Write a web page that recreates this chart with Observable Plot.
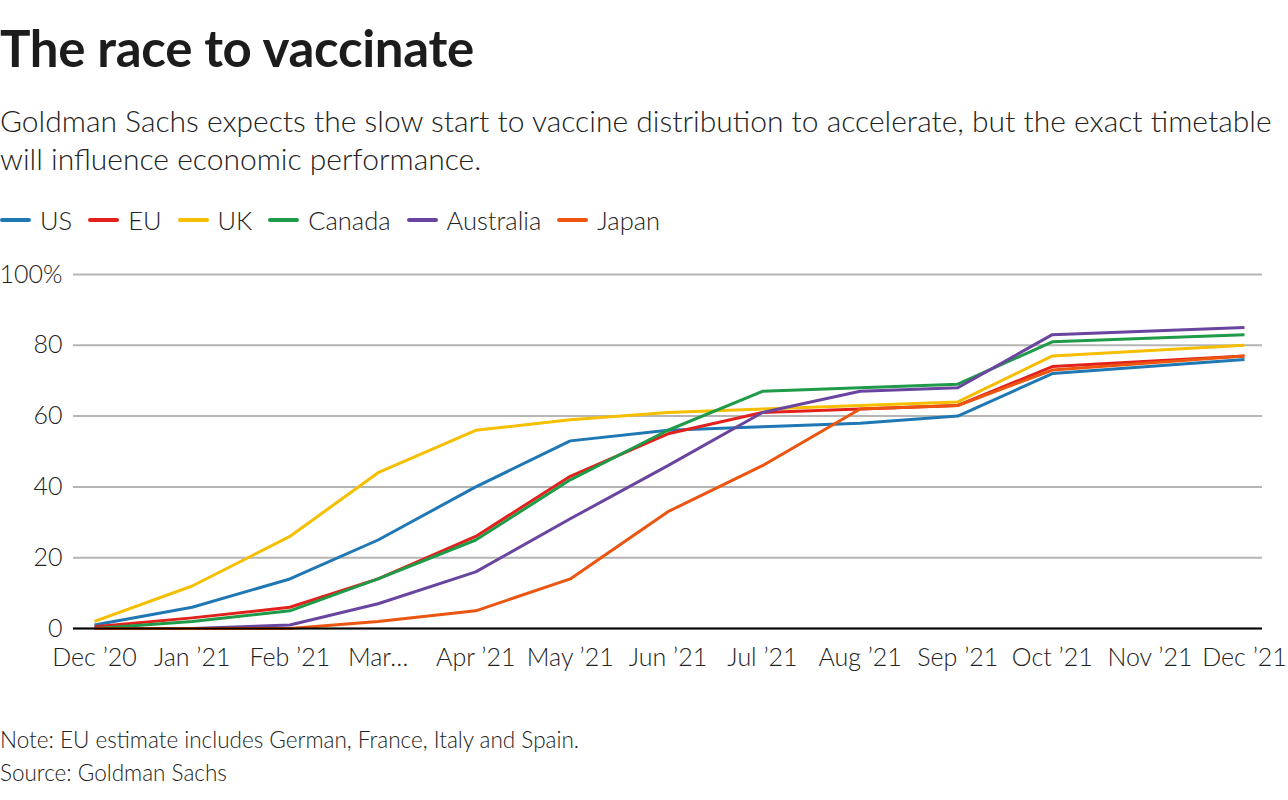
<!DOCTYPE html>
<html>
<head>
<meta charset="utf-8">
<script src="https://cdn.jsdelivr.net/npm/d3@7"></script>
<script src="https://cdn.jsdelivr.net/npm/@observablehq/plot@0.6"></script>
<style>
  html, body { margin: 0; padding: 0; background: #fff; }
  body { width: 1288px; font-family: Lato, "Noto Sans", sans-serif; color: #222; }
  #title { margin-top: 18px; font-size: 51px; line-height: 60px; font-weight: 700; color: #1c1c1c; white-space: nowrap; letter-spacing: -0.3px; }
  #subtitle { margin-top: 23px; font-size: 30px; line-height: 38px; font-weight: 300; color: #222; white-space: nowrap; }
  #legend { margin-top: 28px; height: 30px; display: flex; align-items: center; font-size: 25.5px; font-weight: 300; color: #222; }
  .item { display: flex; align-items: center; margin-right: 16px; }
  .sw { width: 31px; height: 4px; border-radius: 2px; margin-right: 9px; }
  #chart { margin-top: 15px; height: 440px; }
  #caption { margin-top: 33px; font-size: 22.5px; line-height: 33px; font-weight: 300; color: #222; }
</style>
</head>
<body>
<div id="title">The race to vaccinate</div>
<div id="subtitle">Goldman Sachs expects the slow start to vaccine distribution to accelerate, but the exact timetable<br>will influence economic performance.</div>
<div id="legend"></div>
<div id="chart"></div>
<div id="caption">Note: EU estimate includes German, France, Italy and Spain.<br>Source: Goldman Sachs</div>
<script>
// Data points (no Nov '21 vertex in the reference)
const months = ["2020-12-01","2021-01-01","2021-02-01","2021-03-01","2021-04-01","2021-05-01","2021-06-01","2021-07-01","2021-08-01","2021-09-01","2021-10-01","2021-12-01"];
const us        = [1, 6, 14, 25, 40, 53, 56, 57, 58, 60, 72, 76];
const eu        = [0.5, 3, 6, 14, 26, 43, 55, 61, 62, 63, 74, 77];
const uk        = [2, 12, 26, 44, 56, 59, 61, 62, 63, 64, 77, 80];
const canada    = [0, 2, 5, 14, 25, 42, 56, 67, 68, 69, 81, 83];
const australia = [0, 0, 1, 7, 16, 31, 46, 61, 67, 68, 83, 85];
const japan     = [0, 0, 0, 2, 5, 14, 33, 46, 62, 63, 73, 77];

const seriesNames = ["US", "EU", "UK", "Canada", "Australia", "Japan"];
const seriesValues = [us, eu, uk, canada, australia, japan];
const colors = ["#1f77b4", "#e2211c", "#f5bf00", "#1e9a48", "#6a45a0", "#ec550f"];

const tickMonths = ["2020-12-01","2021-01-01","2021-02-01","2021-03-01","2021-04-01","2021-05-01","2021-06-01","2021-07-01","2021-08-01","2021-09-01","2021-10-01","2021-11-01","2021-12-01"];
const yTicks = [0, 20, 40, 60, 80, 100];

const parse = d3.utcParse("%Y-%m-%d");
const data = [];
seriesNames.forEach((name, i) => {
  seriesValues[i].forEach((v, j) => data.push({country: name, date: parse(months[j]), value: v}));
});

// legend
const legend = document.getElementById("legend");
seriesNames.forEach((name, i) => {
  const it = document.createElement("div");
  it.className = "item";
  it.innerHTML = `<span class="sw" style="background:${colors[i]}"></span><span>${name}</span>`;
  legend.appendChild(it);
});

const fmt = d3.utcFormat("%b ’%y");
const xFormat = d => d.getUTCMonth() === 2 ? "Mar…" : fmt(d);
const yFormat = d => d === 100 ? "100%" : String(d);
const chart = Plot.plot({
  width: 1288,
  height: 440,
  marginTop: 24,
  marginBottom: 62,
  marginLeft: 73,
  marginRight: 26,
  style: { fontFamily: "Lato, 'Noto Sans', sans-serif", fontSize: "25px", fontWeight: 300, color: "#222", background: "#fff" },
  x: {
    type: "utc",
    domain: [parse(months[0]), parse(months[months.length - 1])],
    insetLeft: 21,
    insetRight: 18,
    label: null
  },
  y: {
    domain: [0, 100],
    label: null
  },
  color: { domain: seriesNames, range: colors },
  marks: [
    Plot.gridY(yTicks, { stroke: "#b5b5b5", strokeOpacity: 1, strokeWidth: 2 }),
    Plot.axisX({ ticks: tickMonths.map(parse), tickFormat: xFormat, tickSize: 0, tickPadding: 20, label: null, fontSize: 25 }),
    Plot.axisY({ ticks: yTicks, tickFormat: yFormat, tickSize: 0, tickPadding: 11, label: null, fontSize: 25 }),
    Plot.lineY(data, { x: "date", y: "value", z: "country", stroke: "country", strokeWidth: 3, strokeLinejoin: "round", strokeLinecap: "butt" }),
    Plot.ruleY([0], { stroke: "#000", strokeWidth: 2 })
  ]
});
document.getElementById("chart").appendChild(chart);
</script>
</body>
</html>
